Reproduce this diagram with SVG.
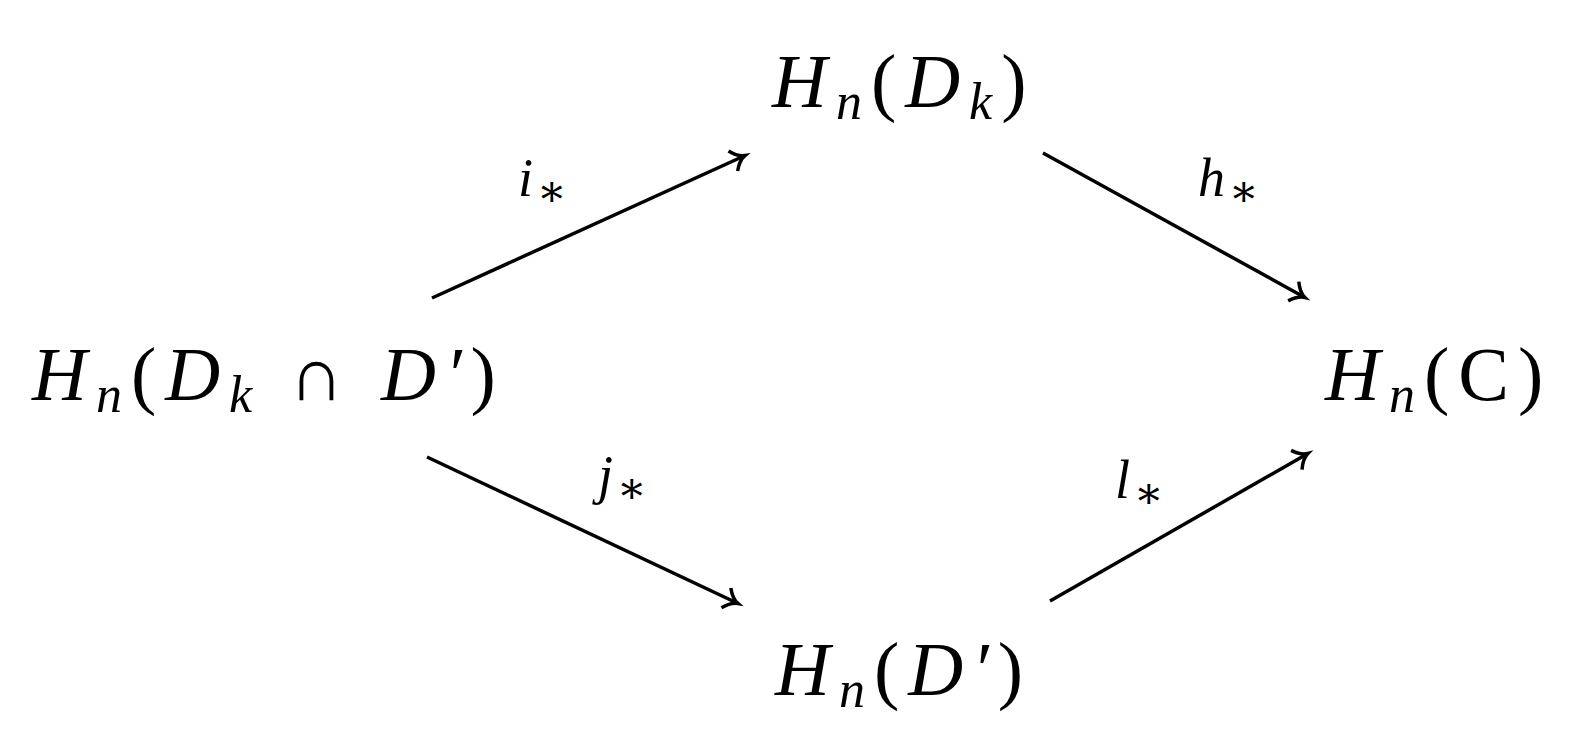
<svg xmlns="http://www.w3.org/2000/svg" width="1577" height="753" viewBox="0 0 1577 753">
<defs>
<style>
text{font-family:"Liberation Serif","DejaVu Serif",serif;font-size:76px;fill:#000}
.n{letter-spacing:9px}
.i{font-style:italic}
.s{font-size:52px;font-style:italic}
.lab{font-size:54px;font-style:italic}
.ls{font-size:44px;font-style:italic}
line{stroke:#000;stroke-width:3.5;fill:none}
</style>
<marker id="a" markerWidth="30" markerHeight="30" refX="20" refY="12" orient="auto" markerUnits="userSpaceOnUse" viewBox="0 0 30 24">
<path d="M8,1 Q14,10 21,12 Q14,14 8,23" fill="none" stroke="#000" stroke-width="3.5"/>
</marker>
</defs>
<g id="connectors">
<line x1="432" y1="298" x2="744" y2="156" marker-end="url(#a)"/>
<line x1="1043" y1="153" x2="1304" y2="297" marker-end="url(#a)"/>
<line x1="427" y1="457" x2="737" y2="603" marker-end="url(#a)"/>
<line x1="1050" y1="601" x2="1307" y2="454" marker-end="url(#a)"/>
<text class="lab" x="518" y="196">i<tspan class="ls" dx="4" dy="10">∗</tspan></text>
<text class="lab" x="1198" y="196">h<tspan class="ls" dx="4" dy="10">∗</tspan></text>
<text class="lab" x="598" y="493">j<tspan class="ls" dx="4" dy="10">∗</tspan></text>
<text class="lab" x="1115" y="498">l<tspan class="ls" dx="4" dy="10">∗</tspan></text>
</g>
<g id="top"><text class="n" x="772" y="107"><tspan class="i">H</tspan><tspan class="s" dy="12">n</tspan><tspan dy="-12">(</tspan><tspan class="i">D</tspan><tspan class="s" dy="12">k</tspan><tspan dy="-12">)</tspan></text></g>
<g id="left"><text class="n" x="32" y="400"><tspan class="i">H</tspan><tspan class="s" dy="12">n</tspan><tspan dy="-12">(</tspan><tspan class="i">D</tspan><tspan class="s" dy="12">k</tspan><tspan dy="-12"> ∩ </tspan><tspan class="i">D′</tspan><tspan>)</tspan></text></g>
<g id="right"><text class="n" x="1325" y="400"><tspan class="i">H</tspan><tspan class="s" dy="12">n</tspan><tspan dy="-12">(C)</tspan></text></g>
<g id="bottom"><text class="n" x="775" y="695"><tspan class="i">H</tspan><tspan class="s" dy="12">n</tspan><tspan dy="-12">(</tspan><tspan class="i">D′</tspan><tspan>)</tspan></text></g>
</svg>
